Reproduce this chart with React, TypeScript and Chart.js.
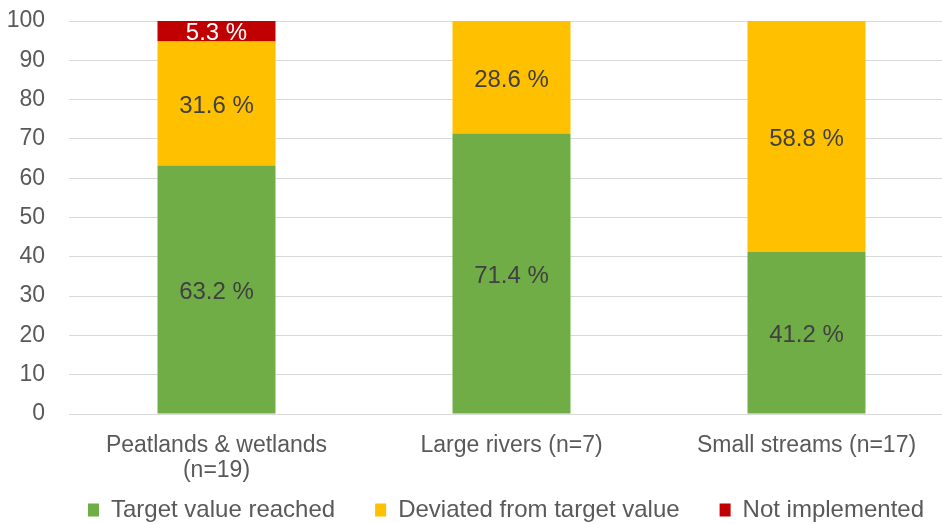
import React, { useEffect, useRef } from "react";
import { Chart, registerables } from "chart.js";

Chart.register(...registerables);

const categories: (string | string[])[] = [
  ["Peatlands & wetlands", "(n=19)"],
  "Large rivers (n=7)",
  "Small streams (n=17)",
];
const targetReached = [63.2, 71.4, 41.2];
const deviated = [31.6, 28.6, 58.8];
const notImplemented = [5.3, 0, 0];
const yTicks = [0, 10, 20, 30, 40, 50, 60, 70, 80, 90, 100];

const FONT = "'Liberation Sans', Arial, Helvetica, sans-serif";

const labelPlugin = {
  id: "barLabels",
  afterDatasetsDraw(chart: any) {
    const ctx = chart.ctx;
    ctx.save();
    ctx.font = `24px ${FONT}`;
    ctx.textAlign = "center";
    ctx.textBaseline = "middle";
    chart.data.datasets.forEach((ds: any, di: number) => {
      const meta = chart.getDatasetMeta(di);
      meta.data.forEach((bar: any, i: number) => {
        const v = ds.data[i];
        if (!v) return;
        const y = (bar.y + bar.base) / 2;
        ctx.fillStyle = di === 2 ? "#ffffff" : "#404040";
        ctx.fillText(v.toFixed(1) + " %", bar.x, y + (di === 2 ? 2 : 3));
      });
    });
    ctx.restore();
  },
};

const LEGEND_DX = 29;
const LEGEND_DY = -24;

const legendShift = {
  id: "legendShift",
  afterLayout(chart: any) {
    const lg = chart.legend;
    if (lg) {
      lg.left += LEGEND_DX;
      lg.right += LEGEND_DX;
      lg.top += LEGEND_DY;
    }
  },
};

export default function App() {
  const ref = useRef<HTMLCanvasElement>(null);
  useEffect(() => {
    if (!ref.current) return;
    const chart = new Chart(ref.current, {
      type: "bar",
      data: {
        labels: categories,
        datasets: [
          { label: "Target value reached", data: targetReached, backgroundColor: "#70AD47" },
          { label: "Deviated from target value", data: deviated, backgroundColor: "#FFC000" },
          { label: "Not implemented", data: notImplemented, backgroundColor: "#C00000" },
        ],
      },
      options: {
        responsive: false,
        animation: false,
        layout: { padding: { left: 0, top: 21, right: 1, bottom: 0 } },
        datasets: { bar: { categoryPercentage: 1, barPercentage: 0.4 } },
        scales: {
          x: {
            stacked: true,
            grid: { display: false, drawTicks: false },
            border: { display: true, color: "#d9d9d9", width: 1 },
            ticks: {
              color: "#595959",
              font: { family: FONT, size: 23, lineHeight: "25px" },
              padding: 19,
              maxRotation: 0,
              autoSkip: false,
            },
            afterFit: (s: any) => {
              s.height = 68;
              s.paddingLeft = 0;
              s.paddingRight = 0;
            },
          },
          y: {
            stacked: true,
            min: 0,
            max: 100,
            afterBuildTicks: (axis: any) => {
              axis.ticks = yTicks.map((v) => ({ value: v }));
            },
            grid: { color: "#d9d9d9", lineWidth: 1, drawTicks: false },
            border: { display: false },
            ticks: { color: "#595959", font: { family: FONT, size: 23 }, padding: 24 },
            afterFit: (s: any) => {
              s.width = 69;
              s.paddingTop = 0;
              s.paddingBottom = 0;
            },
          },
        },
        plugins: {
          legend: {
            position: "bottom",
            maxHeight: 42,
            labels: {
              color: "#595959",
              font: { family: FONT, size: 24 },
              boxWidth: 11,
              boxHeight: 13,
              padding: 40,
            },
          },
          tooltip: { enabled: false },
        },
      },
      plugins: [labelPlugin, legendShift],
    });
    return () => chart.destroy();
  }, []);
  return (
    <div style={{ position: "fixed", left: 0, top: 0, width: 942, height: 524, overflow: "hidden", background: "#fff" }}>
      <canvas ref={ref} width={955} height={524} style={{ display: "block" }} />
    </div>
  );
}
